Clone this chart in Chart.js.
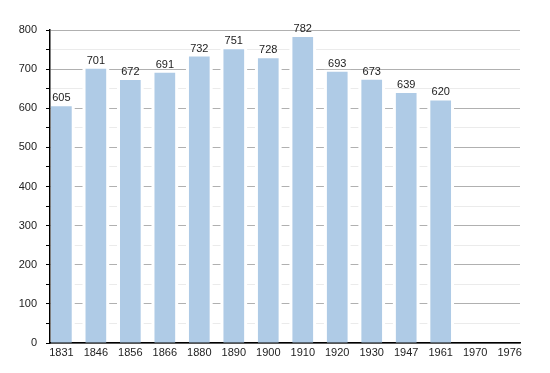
<!DOCTYPE html>
<html lang="en">
<head>
    <meta charset="UTF-8">
    <title>Population</title>
    <script src="https://cdn.jsdelivr.net/npm/chart.js"></script>
    <style>
        body {
            margin: 0;
            padding: 0;
            background-color: #fff;
        }

        canvas {
            display: block;
        }
    </style>
</head>
<body>
    <canvas id="popChart" width="550" height="373"></canvas>

    <script>
        const years = ["1831", "1846", "1856", "1866", "1880", "1890", "1900", "1910", "1920", "1930", "1947", "1961", "1970", "1976"];
        const population = [605, 701, 672, 691, 732, 751, 728, 782, 693, 673, 639, 620, null, null];
        const yTicks = [0, 100, 200, 300, 400, 500, 600, 700, 800];

        const points = population.map((v, i) => ({ x: i, y: v }));

        // white halo behind each bar, then the value above it
        const barLabels = {
            id: 'barLabels',
            beforeDatasetsDraw(chart) {
                const ctx = chart.ctx;
                const area = chart.chartArea;
                const meta = chart.getDatasetMeta(0);
                ctx.save();
                ctx.beginPath();
                ctx.rect(area.left + 1, area.top, area.right - area.left, area.bottom - area.top - 1);
                ctx.clip();
                ctx.fillStyle = '#fff';
                meta.data.forEach((bar, i) => {
                    if (population[i] == null) return;
                    const half = bar.width / 2;
                    ctx.fillRect(bar.x - half - 3, bar.y - 2, bar.width + 6, bar.base - bar.y + 1);
                });
                ctx.restore();
            },
            afterDatasetsDraw(chart) {
                const ctx = chart.ctx;
                const meta = chart.getDatasetMeta(0);
                ctx.save();
                ctx.font = '11px "Liberation Sans", Arial, sans-serif';
                ctx.fillStyle = '#222';
                ctx.textAlign = 'center';
                ctx.textBaseline = 'middle';
                meta.data.forEach((bar, i) => {
                    if (population[i] == null) return;
                    ctx.fillText(String(population[i]), bar.x, bar.y - 8);
                });
                ctx.restore();
            }
        };

        new Chart(document.getElementById('popChart'), {
            type: 'bar',
            data: {
                datasets: [{
                    data: points,
                    backgroundColor: '#afcbe6',
                    borderWidth: 0,
                    barPercentage: 0.6,
                    categoryPercentage: 1
                }]
            },
            options: {
                responsive: false,
                animation: false,
                layout: {
                    padding: { top: 30, right: 30, left: 0, bottom: 0 }
                },
                plugins: {
                    legend: { display: false },
                    tooltip: { enabled: false }
                },
                scales: {
                    x: {
                        type: 'linear',
                        offset: false,
                        min: -0.33,
                        max: 13.3,
                        afterBuildTicks(scale) {
                            scale.ticks = years.map((_, i) => ({ value: i }));
                        },
                        afterFit(scale) {
                            scale.height = 30;
                        },
                        grid: { display: false, drawTicks: false, offset: false },
                        border: { color: '#000', width: 1.5 },
                        ticks: {
                            autoSkip: false,
                            maxRotation: 0,
                            padding: 3,
                            color: '#222',
                            font: { family: '"Liberation Sans", Arial, sans-serif', size: 11 },
                            callback: value => years[value]
                        }
                    },
                    y: {
                        min: 0,
                        max: 800,
                        afterFit(scale) {
                            scale.width = 50;
                        },
                        afterBuildTicks(scale) {
                            const list = [];
                            for (let v = 0; v <= 800; v += 50) list.push({ value: v });
                            scale.ticks = list;
                        },
                        grid: {
                            color: ctx => ctx.tick.value % 100 === 0 ? '#b0b0b0' : '#ebebeb',
                            tickColor: '#000',
                            tickLength: 4
                        },
                        border: { color: '#000', width: 1.5 },
                        ticks: {
                            autoSkip: false,
                            padding: 9,
                            color: '#222',
                            font: { family: '"Liberation Sans", Arial, sans-serif', size: 11 },
                            callback: value => yTicks.includes(value) ? String(value) : ''
                        }
                    }
                }
            },
            plugins: [barLabels]
        });
    </script>
</body>
</html>
